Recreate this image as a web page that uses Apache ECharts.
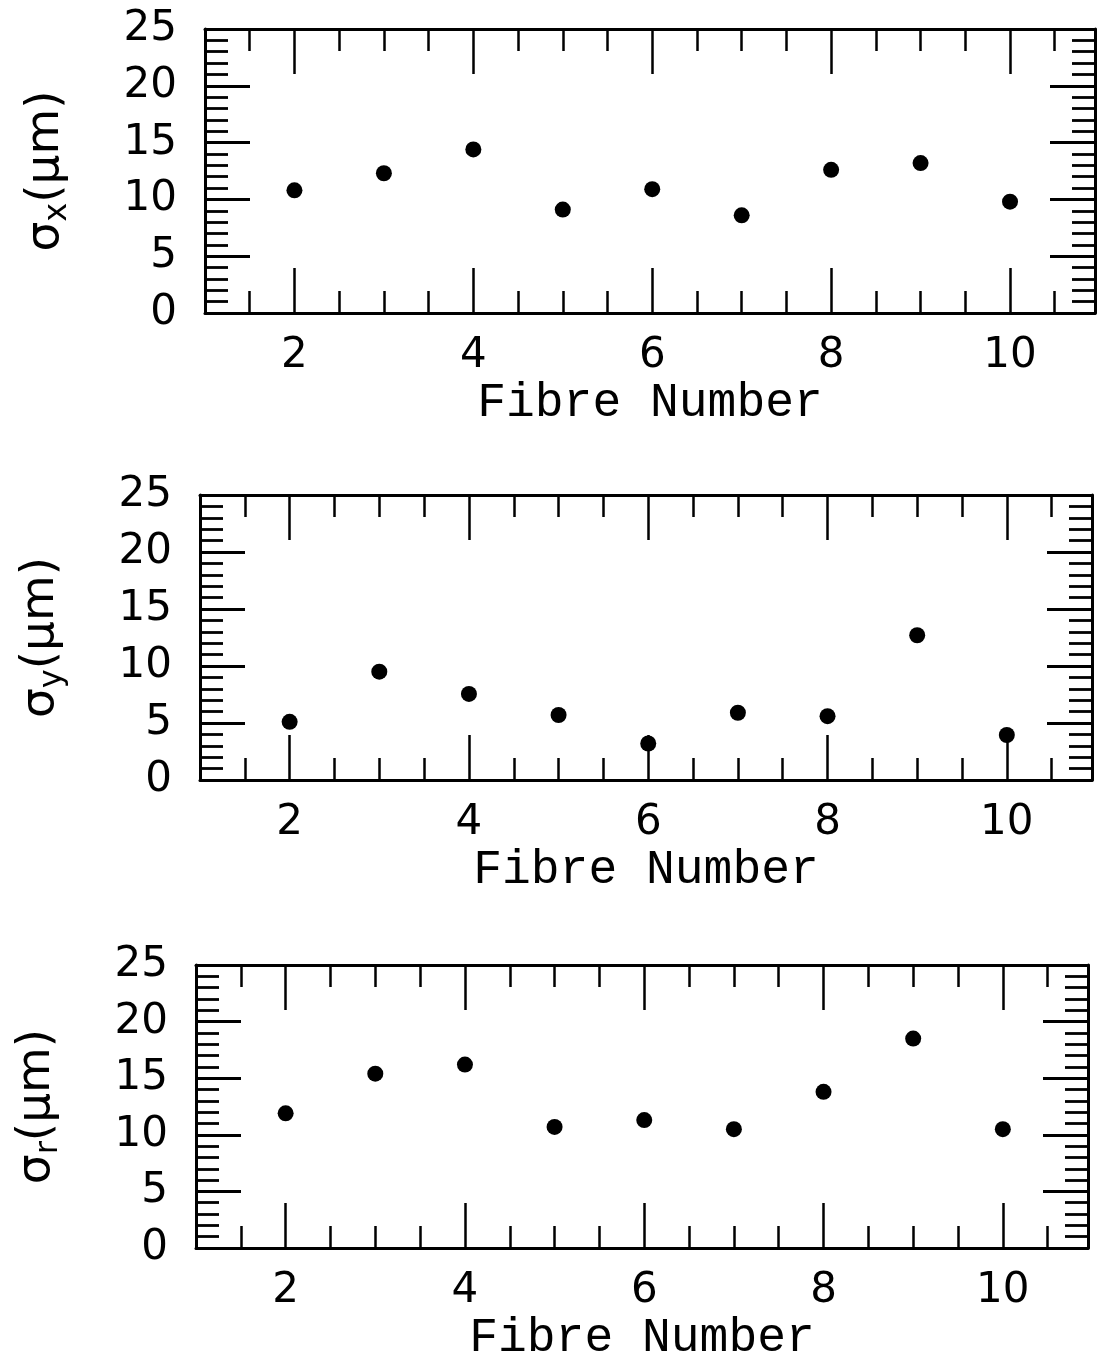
<!DOCTYPE html>
<html><head><meta charset="utf-8">
<script src="https://cdn.jsdelivr.net/npm/echarts@6/dist/echarts.min.js"></script>
<style>html,body{margin:0;padding:0;background:#fff}#c{width:1104px;height:1361px}</style>
</head><body><div id="c"></div>
<script>
// ---- data ----
const fibres = [2, 3, 4, 5, 6, 7, 8, 9, 10];
const sigmaX = [10.8, 12.3, 14.4, 9.1, 10.9, 8.6, 12.6, 13.2, 9.8];
const sigmaY = [5.1, 9.5, 7.55, 5.7, 3.2, 5.9, 5.6, 12.7, 3.95];
const sigmaR = [11.9, 15.4, 16.2, 10.7, 11.3, 10.5, 13.8, 18.5, 10.5];
const xLabelTicks = [2, 4, 6, 8, 10];
const yTicks = [0, 5, 10, 15, 20, 25];
const xRange = [1, 10.95];
const xMinorStep = 0.5;
const xTitle = 'Fibre Number';
const ySubs = ['x', 'y', 'r'];
const series = [sigmaX, sigmaY, sigmaR];

// ---- layout ----
const boxes = [
  {l: 205, r: 1095, t: 29, b: 313},
  {l: 200, r: 1092, t: 495, b: 780},
  {l: 196, r: 1088, t: 965, b: 1248}
];
const BLACK = '#000';
const numFont = 'DejaVu Sans';
const grids = [], xAxes = [], yAxes = [], ser = [];

boxes.forEach((bx, i) => {
  const w = bx.r - bx.l, h = bx.b - bx.t;
  const subL = bx.l + w * (xLabelTicks[0] - xRange[0]) / (xRange[1] - xRange[0]);
  grids.push({left: bx.l, top: bx.t, width: w, height: h, outerBoundsMode: 'none'});
  grids.push({left: subL, top: bx.t, width: bx.r - subL, height: h, outerBoundsMode: 'none'});
  const gMain = 2 * i, gSub = 2 * i + 1;
  const minorAx = (pos, withName) => ({
    type: 'value', gridIndex: gMain, position: pos, min: xRange[0], max: xRange[1], interval: xMinorStep,
    axisLine: {show: true, onZero: false, lineStyle: {color: BLACK, width: 3}},
    axisTick: {show: true, inside: true, length: 22, lineStyle: {color: BLACK, width: 2.5}},
    axisLabel: {show: false}, splitLine: {show: false},
    name: withName ? xTitle : '', nameLocation: 'middle', nameGap: 66,
    nameTextStyle: {fontFamily: 'Liberation Mono', fontSize: 48, color: BLACK}
  });
  const majorAx = (pos, withLabels) => ({
    type: 'value', gridIndex: gSub, position: pos, min: xLabelTicks[0], max: xRange[1],
    interval: xLabelTicks[1] - xLabelTicks[0],
    axisLine: {show: false},
    axisTick: {show: true, inside: true, length: 45, lineStyle: {color: BLACK, width: 2.5}},
    axisLabel: {show: withLabels, margin: 22, fontFamily: numFont, fontSize: 42, color: BLACK,
      formatter: v => (xLabelTicks.indexOf(v) >= 0 ? String(v) : '')},
    splitLine: {show: false}
  });
  xAxes.push(minorAx('bottom', true), minorAx('top', false), majorAx('bottom', true), majorAx('top', false));
  const yAx = (pos, withLabels) => ({
    type: 'value', gridIndex: gMain, position: pos, min: yTicks[0], max: yTicks[yTicks.length - 1],
    interval: yTicks[1] - yTicks[0],
    axisLine: {show: true, onZero: false, lineStyle: {color: BLACK, width: 3}},
    axisTick: {show: true, inside: true, length: 45, lineStyle: {color: BLACK, width: 2.8}},
    minorTick: {show: true, splitNumber: 5, length: 23, lineStyle: {color: BLACK, width: 2.8}},
    axisLabel: {show: withLabels, margin: 28, fontFamily: numFont, fontSize: 42, color: BLACK},
    splitLine: {show: false}, minorSplitLine: {show: false},
    name: withLabels ? '{m|σ}{s|' + ySubs[i] + '}{m|(μm)}' : '',
    nameLocation: 'middle', nameGap: 131,
    nameTextStyle: {
      color: BLACK,
      rich: {
        m: {fontFamily: numFont, fontSize: 47, lineHeight: 56, color: BLACK},
        s: {fontFamily: numFont, fontSize: 32, lineHeight: 36, verticalAlign: 'bottom', color: BLACK}
      }
    }
  });
  yAxes.push(yAx('left', true), yAx('right', false),
    {type: 'value', gridIndex: gSub, show: false, min: yTicks[0], max: yTicks[yTicks.length - 1]});
  ser.push({
    type: 'scatter', xAxisIndex: 4 * i, yAxisIndex: 3 * i,
    symbol: 'circle', symbolSize: 16, itemStyle: {color: BLACK, opacity: 1},
    data: fibres.map((f, k) => [f, series[i][k]])
  });
});

const chart = echarts.init(document.getElementById('c'), null, {renderer: 'canvas'});
chart.setOption({
  animation: false, backgroundColor: '#fff',
  grid: grids, xAxis: xAxes, yAxis: yAxes, series: ser
});
</script></body></html>
